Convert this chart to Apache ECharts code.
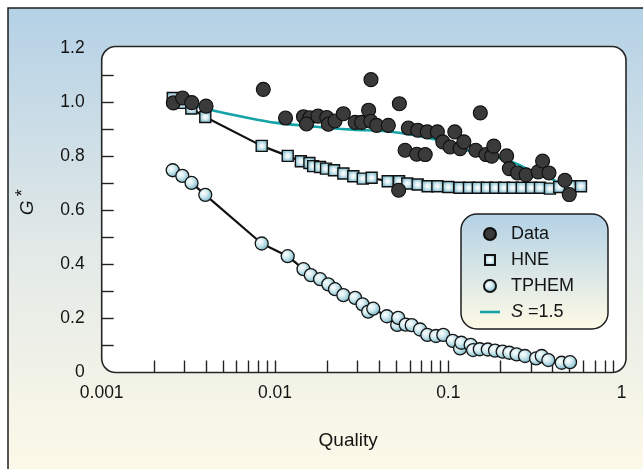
<!DOCTYPE html>
<html>
<head>
<meta charset="utf-8">
<script src="https://cdn.jsdelivr.net/npm/echarts@6/dist/echarts.min.js"></script>
<style>
  html, body { margin: 0; padding: 0; background: #ffffff; }
  #chart { width: 643px; height: 469px; }
</style>
</head>
<body>
<div id="chart"></div>
<script>
// Measured G* values versus quality [quality, G*]
const dataPoints = [
  [0.00259, 0.997], [0.00293, 1.015], [0.00331, 0.998], [0.0040, 0.985],
  [0.00856, 1.047], [0.0115, 0.941], [0.0146, 0.946], [0.0159, 0.942],
  [0.0152, 0.919], [0.0177, 0.948], [0.0199, 0.943], [0.0203, 0.918],
  [0.0222, 0.930], [0.0248, 0.957], [0.029, 0.925], [0.0316, 0.925],
  [0.0358, 1.083], [0.0347, 0.970], [0.0357, 0.929], [0.0386, 0.914],
  [0.0451, 0.914], [0.0522, 0.994], [0.0517, 0.674], [0.0563, 0.822],
  [0.0588, 0.904], [0.0657, 0.807], [0.0666, 0.896], [0.0736, 0.806],
  [0.0756, 0.890], [0.0865, 0.890], [0.0929, 0.853], [0.1024, 0.834],
  [0.109, 0.890], [0.117, 0.828], [0.123, 0.853], [0.144, 0.822],
  [0.153, 0.960], [0.165, 0.806], [0.178, 0.800], [0.183, 0.837],
  [0.217, 0.801], [0.225, 0.754], [0.251, 0.738], [0.281, 0.731],
  [0.330, 0.742], [0.350, 0.782], [0.381, 0.738], [0.471, 0.711],
  [0.499, 0.658]
];

// HNE model
const hnePoints = [
  [0.00257, 1.015], [0.00289, 0.997], [0.00329, 0.976], [0.00396, 0.945],
  [0.00838, 0.838], [0.01184, 0.801], [0.0141, 0.781], [0.0158, 0.775],
  [0.0166, 0.763], [0.0182, 0.760], [0.0197, 0.754], [0.0219, 0.748],
  [0.0248, 0.736], [0.0283, 0.726], [0.0321, 0.717], [0.0361, 0.720],
  [0.0447, 0.707], [0.052, 0.707], [0.058, 0.699], [0.0666, 0.695],
  [0.076, 0.689], [0.0865, 0.689], [0.1, 0.686], [0.116, 0.683],
  [0.1316, 0.683], [0.148, 0.683], [0.1667, 0.683], [0.1868, 0.683],
  [0.2096, 0.683], [0.2353, 0.683], [0.2653, 0.683], [0.3016, 0.683],
  [0.338, 0.683], [0.386, 0.680], [0.437, 0.686], [0.504, 0.689],
  [0.583, 0.689]
];

// TPHEM model
const tphemPoints = [
  [0.00257, 0.748], [0.00292, 0.727], [0.0033, 0.701], [0.00396, 0.657],
  [0.00838, 0.477], [0.01184, 0.430], [0.0146, 0.382], [0.0161, 0.360],
  [0.0182, 0.345], [0.0203, 0.326], [0.0222, 0.308], [0.0248, 0.286],
  [0.029, 0.276], [0.032, 0.252], [0.0345, 0.225], [0.0369, 0.236],
  [0.0442, 0.208], [0.0507, 0.176], [0.0514, 0.202], [0.0568, 0.177],
  [0.0615, 0.175], [0.0687, 0.159], [0.0757, 0.139], [0.0849, 0.135],
  [0.0936, 0.139], [0.106, 0.117], [0.117, 0.089], [0.119, 0.110],
  [0.1346, 0.102], [0.139, 0.083], [0.152, 0.086], [0.169, 0.085],
  [0.186, 0.081], [0.206, 0.077], [0.225, 0.073], [0.248, 0.067],
  [0.277, 0.061], [0.321, 0.052], [0.346, 0.061], [0.378, 0.046],
  [0.451, 0.036], [0.504, 0.038]
];

// Correlation curve, S = 1.5
const sCurve = [
  [0.0026, 1.0], [0.0033, 0.99], [0.0042, 0.972], [0.0066, 0.945],
  [0.0102, 0.923], [0.0159, 0.911], [0.0207, 0.904], [0.0283, 0.898],
  [0.0441, 0.892], [0.0685, 0.874], [0.0855, 0.861], [0.107, 0.840],
  [0.133, 0.819], [0.167, 0.803], [0.207, 0.790], [0.258, 0.767],
  [0.32, 0.736], [0.40, 0.714], [0.458, 0.689], [0.52, 0.680]
];

const xTickLabels = ['0.001', '0.01', '0.1', '1'];
const xTickMarks = [
  0.002, 0.003, 0.004, 0.005, 0.006, 0.007, 0.008, 0.009, 0.01,
  0.02, 0.03, 0.04, 0.05, 0.06, 0.07, 0.08, 0.09, 0.1,
  0.2, 0.3, 0.4, 0.5, 0.6, 0.7, 0.8, 0.9
];
const yTickValues = [0, 0.2, 0.4, 0.6, 0.8, 1.0, 1.2];
const yTickLabels = ['0', '0.2', '0.4', '0.6', '0.8', '1.0', '1.2'];
const yTickMarks = [0.1, 0.2, 0.3, 0.4, 0.5, 0.6, 0.7, 0.8, 0.9, 1.0, 1.1];

const FONT = "'Liberation Sans Narrow', 'Arial Narrow', 'Liberation Sans', Arial, sans-serif";
const INK = '#141414';
const TEAL = '#14a3a6';

const G = echarts.graphic;
const squareFill = new G.RadialGradient(0.5, 0.5, 0.7, [
  { offset: 0, color: '#ffffff' },
  { offset: 0.25, color: '#e2f1f4' },
  { offset: 0.75, color: '#72b3c8' },
  { offset: 1, color: '#4e9db6' }
]);
const ballFill = new G.RadialGradient(0.38, 0.38, 0.7, [
  { offset: 0, color: '#ffffff' },
  { offset: 0.4, color: '#cfe9ee' },
  { offset: 1, color: '#62aabf' }
]);

const chart = echarts.init(document.getElementById('chart'), null, { renderer: 'canvas' });

chart.setOption({
  animation: false,
  textStyle: { fontFamily: FONT },
  graphic: [
    {
      type: 'rect', z: -20, silent: true,
      shape: { x: 8, y: 8, width: 700, height: 475 },
      style: {
        fill: new G.LinearGradient(0, 0, 0, 1, [
          { offset: 0, color: '#b4d1e6' },
          { offset: 0.5, color: '#e2e9e7' },
          { offset: 1, color: '#fefae8' }
        ]),
        stroke: '#1e1e1e', lineWidth: 1.5
      }
    },
    {
      type: 'rect', z: -10, silent: true,
      shape: { x: 101.7, y: 46.5, width: 524.3, height: 326, r: 14 },
      style: { fill: '#ffffff', stroke: '#262626', lineWidth: 1.6 }
    }
  ],
  grid: { left: 101.7, right: 21.4, top: 48, bottom: 96.5, containLabel: false },
  legend: {
    orient: 'vertical',
    left: 461, top: 214,
    padding: [11, 34, 8, 19],
    itemWidth: 20, itemHeight: 12, itemGap: 8,
    symbolKeepAspect: true,
    backgroundColor: new G.LinearGradient(0, 0, 0, 1, [
      { offset: 0, color: '#b3d1e6' },
      { offset: 1, color: '#fffbe6' }
    ]),
    borderColor: '#1e1e1e', borderWidth: 1.5, borderRadius: 16,
    textStyle: {
      fontFamily: FONT, fontSize: 18, color: INK, padding: [0, 0, 0, 6],
      rich: {
        it: { fontFamily: FONT, fontSize: 18, fontStyle: 'italic', color: INK },
        tx: { fontFamily: FONT, fontSize: 18, color: INK }
      }
    },
    formatter: function (name) {
      if (name === 'S=1.5') return '{it|S}{tx| =1.5}';
      return name;
    },
    data: [
      { name: 'Data', icon: 'circle' },
      { name: 'HNE', icon: 'path://M-1,-1M0,0L10,0L10,10L0,10ZM11,11', lineStyle: { opacity: 0 } },
      { name: 'TPHEM', icon: 'circle', lineStyle: { opacity: 0 } },
      {
        name: 'S=1.5', icon: 'path://M0,0L20,0L20,2.6L0,2.6Z',
        itemStyle: { color: TEAL, borderWidth: 0 },
        lineStyle: { color: TEAL, width: 2.6 }
      }
    ]
  },
  xAxis: {
    type: 'log', logBase: 10, min: 0.001, max: 1,
    axisLine: { show: false },
    splitLine: { show: false },
    minorTick: { show: false },
    axisTick: {
      show: true, inside: true, length: 12,
      lineStyle: { color: '#222', width: 1.4 },
      customValues: xTickMarks
    },
    axisLabel: {
      margin: 12, fontSize: 17.5, color: INK, fontFamily: FONT,
      formatter: function (v) {
        return xTickLabels[Math.round(Math.log10(v)) + 3];
      }
    },
    name: 'Quality',
    nameLocation: 'middle',
    nameGap: 59,
    nameTextStyle: { fontSize: 19, color: INK, fontFamily: FONT, padding: [0, 27, 0, 0] }
  },
  yAxis: {
    type: 'value', min: 0, max: 1.2, interval: 0.1,
    axisLine: { show: false },
    splitLine: { show: false },
    axisTick: {
      show: true, inside: true, length: 12,
      lineStyle: { color: '#222', width: 1.4 },
      customValues: yTickMarks
    },
    axisLabel: {
      margin: 17, fontSize: 17.5, color: INK, fontFamily: FONT,
      customValues: yTickValues,
      formatter: function (v) {
        const i = yTickValues.findIndex(t => Math.abs(t - v) < 1e-6);
        return i >= 0 ? yTickLabels[i] : '';
      }
    },
    name: '{g|G}{s|*}',
    nameLocation: 'middle',
    nameGap: 60,
    nameTextStyle: {
      color: INK,
      padding: [0, 0, 0, 16],
      rich: {
        g: { fontFamily: FONT, fontSize: 19, fontStyle: 'italic', color: INK },
        s: { fontFamily: FONT, fontSize: 18, color: INK, verticalAlign: 'top', padding: [0, 0, 10, 4] }
      }
    }
  },
  series: [
    {
      name: 'S=1.5', type: 'line', data: sCurve,
      smooth: 0.35, symbol: 'none', z: 2,
      lineStyle: { color: TEAL, width: 2.6 },
      itemStyle: { color: TEAL }
    },
    {
      name: 'HNE', type: 'line', data: hnePoints, z: 3,
      symbol: 'rect', symbolSize: 11,
      lineStyle: { color: '#111', width: 2.2 },
      itemStyle: { color: squareFill, borderColor: '#111', borderWidth: 1.4 }
    },
    {
      name: 'TPHEM', type: 'line', data: tphemPoints, z: 3,
      symbol: 'circle', symbolSize: 13,
      lineStyle: { color: '#111', width: 2.2 },
      itemStyle: { color: ballFill, borderColor: '#151515', borderWidth: 1.3 }
    },
    {
      name: 'Data', type: 'scatter', data: dataPoints, z: 4,
      symbol: 'circle', symbolSize: 14,
      itemStyle: { color: '#3a3a3a', borderColor: '#0e0e0e', borderWidth: 1.1, opacity: 1 }
    }
  ]
});
</script>
</body>
</html>
